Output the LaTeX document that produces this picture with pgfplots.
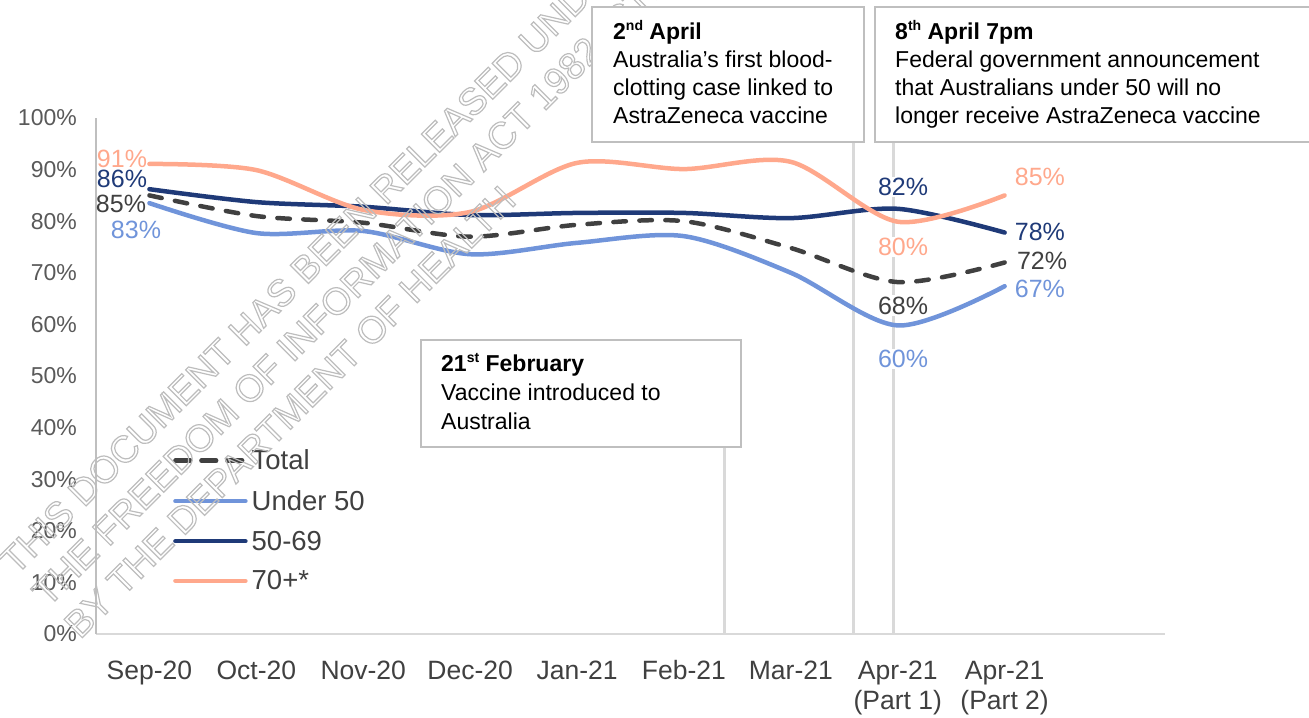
\documentclass[border=0pt]{standalone}
\usepackage{fontspec}
\setmainfont{Liberation Sans}
\usepackage{pgfplots}
\pgfplotsset{compat=1.18}

\definecolor{cTotal}{HTML}{404040}
\definecolor{cUnder}{HTML}{7094DA}
\definecolor{cMid}{HTML}{1F3A78}
\definecolor{cOld}{HTML}{FFA88C}
\definecolor{vline}{HTML}{D9D9D9}
\definecolor{boxgray}{HTML}{BFBFBF}
\definecolor{ylab}{HTML}{595959}
\definecolor{xlab}{HTML}{404040}
\definecolor{wm}{HTML}{BDBDBD}

\newcommand{\lbl}{\fontsize{25bp}{30bp}\selectfont}
\newcommand{\bx}{\fontsize{23bp}{28bp}\selectfont}
\newcommand{\sups}[1]{\raisebox{0.42em}{\fontsize{14bp}{14bp}\selectfont #1}}
\newcommand{\outl}[1]{\special{pdf:literal direct 1 Tr 1.2 w}#1\special{pdf:literal direct 0 Tr}}
\newcommand{\xs}{\rule{0pt}{19bp}}

\begin{document}
\begin{tikzpicture}
\path[use as bounding box] (0,0) rectangle (1309bp,718bp);
\begin{axis}[
  at={(96bp,84bp)}, anchor=south west,
  scale only axis, width=1069bp, height=516bp,
  xmin=-0.5, xmax=9.5, ymin=0, ymax=100,
  axis lines=left, axis line style={-},
  x axis line style={draw=vline, line width=2bp},
  y axis line style={draw=boxgray, line width=1.5bp},
  xtick={0,...,8},
  xticklabels={\xs Sep-20,\xs Oct-20,\xs Nov-20,\xs Dec-20,\xs Jan-21,\xs Feb-21,\xs Mar-21,{\xs Apr-21\\(Part 1)},{\xs Apr-21\\(Part 2)}},
  xticklabel style={align=center, font=\fontsize{26.5bp}{30bp}\selectfont, text=xlab, inner sep=0pt, anchor=north, yshift=-26bp},
  ytick={0,10,...,100},
  yticklabels={0\%,10\%,20\%,30\%,40\%,50\%,60\%,70\%,80\%,90\%,100\%},
  yticklabel style={font=\fontsize{23bp}{27bp}\selectfont, text=ylab, inner sep=0pt, anchor=east, xshift=-19bp},
  major tick length=0pt,
  clip=false,
  legend style={at={(0.072,0.357)}, anchor=north west, draw=none, fill=none, inner sep=0pt,
    font=\fontsize{27.5bp}{32bp}\selectfont, text=cTotal, row sep=19bp,
    nodes={inner sep=0pt}, /tikz/every odd column/.style={column sep=4bp}},
  legend cell align=left,
  legend image code/.code={\path (0bp,0bp) -- (70bp,0bp); \draw[#1] (2.25bp,0bp) -- (67.75bp,0bp);},
  every axis plot/.append style={line width=4.5bp, line cap=round, line join=round, smooth},
]
% event markers
\draw[vline, line width=3bp] (axis cs:5.38,0) -- (axis cs:5.38,36.2);
\draw[vline, line width=3bp] (axis cs:6.59,0) -- (axis cs:6.59,95.3);
\draw[vline, line width=3bp] (axis cs:6.96,0) -- (axis cs:6.96,95.3);
% data labels
\node[text=cOld, font=\lbl, inner sep=1bp] at (axis cs:-0.257,92.1) {91\%};
\node[text=cMid, font=\lbl, inner sep=1bp] at (axis cs:-0.257,88.2) {86\%};
\node[text=cTotal, font=\lbl, inner sep=1bp] at (axis cs:-0.266,83.3) {85\%};
\node[text=cUnder, font=\lbl, inner sep=1bp] at (axis cs:-0.126,78.3) {83\%};
\node[text=cMid, font=\lbl, fill=white, inner sep=1.5bp] at (axis cs:7.05,86.6) {82\%};
\node[text=cOld, font=\lbl, fill=white, inner sep=1.5bp] at (axis cs:7.05,75.0) {80\%};
\node[text=cTotal, font=\lbl, fill=white, inner sep=1.5bp] at (axis cs:7.05,63.6) {68\%};
\node[text=cUnder, font=\lbl, fill=white, inner sep=1.5bp] at (axis cs:7.05,53.3) {60\%};
\node[text=cOld, font=\lbl, inner sep=1bp] at (axis cs:8.33,88.6) {85\%};
\node[text=cMid, font=\lbl, inner sep=1bp] at (axis cs:8.33,77.9) {78\%};
\node[text=cTotal, font=\lbl, inner sep=1bp] at (axis cs:8.35,72.3) {72\%};
\node[text=cUnder, font=\lbl, inner sep=1bp] at (axis cs:8.33,66.9) {67\%};

\addplot[color=cTotal, dash pattern=on 12.5bp off 13.5bp] coordinates {
  (0,85.0) (1,81.0) (2,79.7) (3,77.0) (4,79.3) (5,80.0) (6,74.8) (7,68.2) (8,72.0)};
\addlegendentry{Total}
\addplot[color=cUnder] coordinates {
  (0,83.5) (1,77.7) (2,78.1) (3,73.6) (4,75.8) (5,77.1) (6,70.0) (7,59.8) (8,67.4)};
\addlegendentry{Under 50}
\addplot[color=cMid] coordinates {
  (0,86.2) (1,83.7) (2,82.8) (3,81.2) (4,81.6) (5,81.6) (6,80.6) (7,82.4) (8,77.8)};
\addlegendentry{50-69}
\addplot[color=cOld] coordinates {
  (0,91.1) (1,89.9) (2,82.2) (3,81.8) (4,91.3) (5,90.1) (6,91.5) (7,79.9) (8,85.0)};
\addlegendentry{70+*}
\end{axis}

% watermark
\begin{scope}[every node/.style={rotate=45, anchor=base west, inner sep=0pt, text=wm, font=\fontsize{37.5bp}{42bp}\selectfont}]
\node at (16bp,142bp) {\outl{THIS DOCUMENT HAS BEEN RELEASED UNDER}};
\node at (48bp,110bp) {\outl{THE FREEDOM OF INFORMATION ACT 1982 (CTH)}};
\node at (80bp,78bp) {\outl{BY THE DEPARTMENT OF HEALTH}};
\end{scope}

% annotation boxes
\draw[boxgray, line width=1.5bp, fill=white] (421bp,271bp) rectangle (741bp,378bp);
\begin{scope}[every node/.style={anchor=base west, inner sep=0pt, font=\bx, text=black}]
\node at (441bp,346bp) {\textbf{21\sups{st} February}};
\node at (441bp,317bp) {Vaccine introduced to};
\node at (441bp,288bp) {Australia};
\end{scope}

\draw[boxgray, line width=1.5bp, fill=white] (592bp,576bp) rectangle (864bp,711bp);
\begin{scope}[every node/.style={anchor=base west, inner sep=0pt, font=\bx, text=black}]
\node at (613bp,678bp) {\textbf{2\sups{nd} April}};
\node at (613bp,650bp) {Australia’s first blood-};
\node at (613bp,622bp) {clotting case linked to};
\node at (613bp,594bp) {AstraZeneca vaccine};
\end{scope}

\draw[boxgray, line width=1.5bp, fill=white] (875bp,576bp) rectangle (1320bp,711bp);
\begin{scope}[every node/.style={anchor=base west, inner sep=0pt, font=\bx, text=black}]
\node at (895bp,678bp) {\textbf{8\sups{th} April 7pm}};
\node at (895bp,650bp) {Federal government announcement};
\node at (895bp,622bp) {that Australians under 50 will no};
\node at (895bp,594bp) {longer receive AstraZeneca vaccine};
\end{scope}
\end{tikzpicture}
\end{document}
